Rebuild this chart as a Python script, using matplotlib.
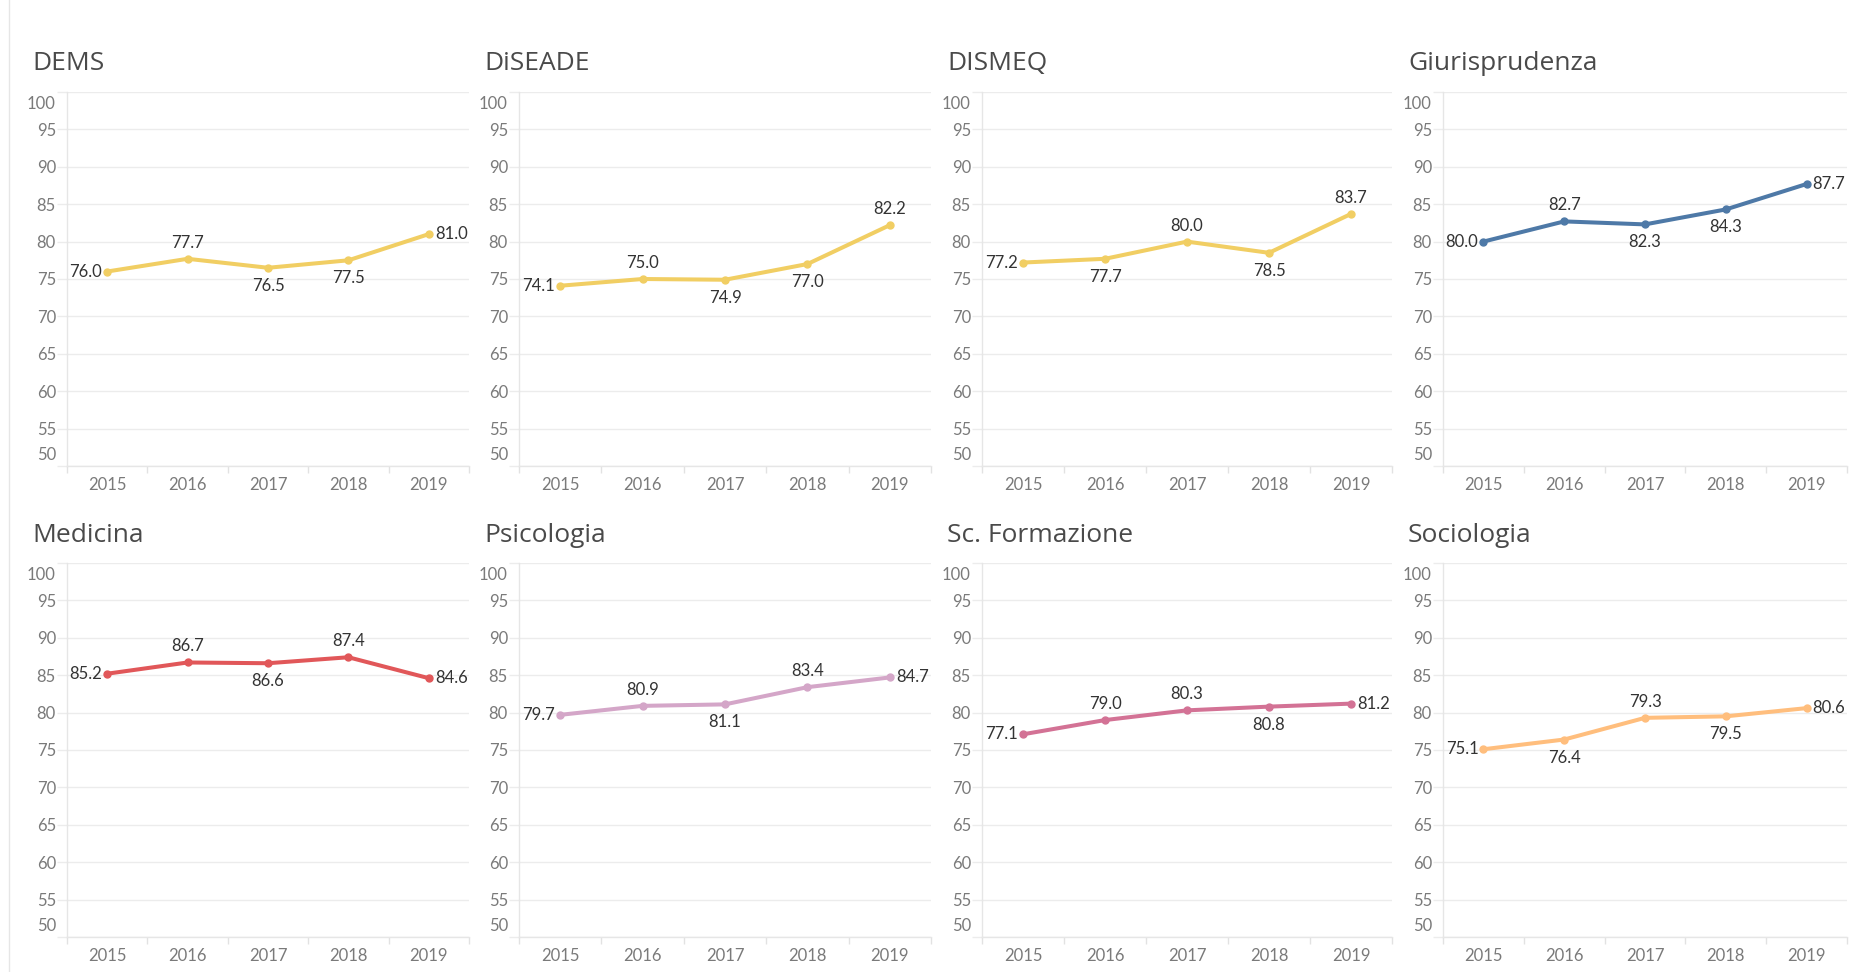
import matplotlib.pyplot as plt
import matplotlib.transforms as mtransforms
from matplotlib.ticker import FixedLocator

plt.rcParams['font.family'] = ['Lato', 'DejaVu Sans']

years = ['2015', '2016', '2017', '2018', '2019']

dems = [76.0, 77.7, 76.5, 77.5, 81.0]
diseade = [74.1, 75.0, 74.9, 77.0, 82.2]
dismeq = [77.2, 77.7, 80.0, 78.5, 83.7]
giurisprudenza = [80.0, 82.7, 82.3, 84.3, 87.7]
medicina = [85.2, 86.7, 86.6, 87.4, 84.6]
psicologia = [79.7, 80.9, 81.1, 83.4, 84.7]
formazione = [77.1, 79.0, 80.3, 80.8, 81.2]
sociologia = [75.1, 76.4, 79.3, 79.5, 80.6]

titles = ['DEMS', 'DiSEADE', 'DISMEQ', 'Giurisprudenza',
          'Medicina', 'Psicologia', 'Sc. Formazione', 'Sociologia']
series = [dems, diseade, dismeq, giurisprudenza,
          medicina, psicologia, formazione, sociologia]
colors = ['#f1ce63', '#f1ce63', '#f1ce63', '#4e79a7',
          '#e15759', '#d4a6c8', '#d37295', '#ffbe7d']
# where each value label sits: L left, A above, B below, R right
placing = ['LABBR', 'LABBA', 'LBABA', 'LABBR',
           'LABAR', 'LABAR', 'LAABR', 'LBABR']

W, H = 1852, 972
lefts = [67, 519, 982, 1443]
rights = [469, 931, 1392, 1847]
tops = [92, 563]
bottoms = [466, 937]

grid_c = '#ececec'
tick_c = '#7a7a7a'

offsets = {'A': (0, 16, 'center', 'center'),
           'B': (0, -18, 'center', 'center'),
           'L': (-5, 0, 'right', 'center'),
           'R': (6, 0, 'left', 'center')}

fig = plt.figure(figsize=(W / 100, H / 100), dpi=100)

# faint left border of the dashboard
fig.add_artist(plt.Line2D([9 / W, 9 / W], [0, 1], color='#e6e6e6', lw=1))

for k in range(8):
    row, col = divmod(k, 4)
    l, r = lefts[col], rights[col]
    t, b = tops[row], bottoms[row]
    ax = fig.add_axes([l / W, 1 - b / H, (r - l) / W, (b - t) / H])
    vals = series[k]
    x = range(len(years))
    ax.plot(x, vals, color=colors[k], lw=2.9, marker='o', ms=5,
            solid_capstyle='round', clip_on=False, zorder=3)

    for i, v in enumerate(vals):
        dx, dy, ha, va = offsets[placing[k][i]]
        ax.annotate(f'{v:.1f}', (i, v), xytext=(dx, dy), textcoords='offset pixels',
                    ha=ha, va=va, fontsize=12, color='#333333', annotation_clip=False)

    ax.set_xlim(-0.5, 4.5)
    ax.set_ylim(50, 100)
    ax.set_xticks(list(x))
    ax.set_xticklabels(years)
    ax.xaxis.set_minor_locator(FixedLocator([i - 0.5 for i in range(6)]))
    ax.set_yticks(range(50, 101, 5))

    ax.tick_params(axis='x', which='major', length=0, pad=8, labelsize=12, labelcolor=tick_c)
    ax.tick_params(axis='x', which='minor', length=5, color='#e2e2e2', width=1)
    ax.tick_params(axis='y', length=7, color=grid_c, width=1, pad=1, labelsize=12,
                   labelcolor=tick_c)
    ax.grid(axis='y', color=grid_c, lw=1)
    ax.set_axisbelow(True)
    for side in ['top', 'right']:
        ax.spines[side].set_visible(False)
    for side in ['left', 'bottom']:
        ax.spines[side].set_color('#e6e6e6')
        ax.spines[side].set_linewidth(1)

    # end labels pulled inside the plot height, as in the original
    labels = ax.get_yticklabels()
    labels[0].set_transform(labels[0].get_transform() +
                            mtransforms.ScaledTranslation(0, 13 / 100, fig.dpi_scale_trans))
    labels[-1].set_transform(labels[-1].get_transform() +
                             mtransforms.ScaledTranslation(0, -11 / 100, fig.dpi_scale_trans))

    ax.annotate(titles[k], xy=(0, 1), xycoords='axes fraction', xytext=(-35, 28),
                textcoords='offset pixels', ha='left', va='center', fontsize=19,
                color='#4a4a4a', family=['Open Sans', 'DejaVu Sans'])

fig.savefig('out.png', dpi=100)
